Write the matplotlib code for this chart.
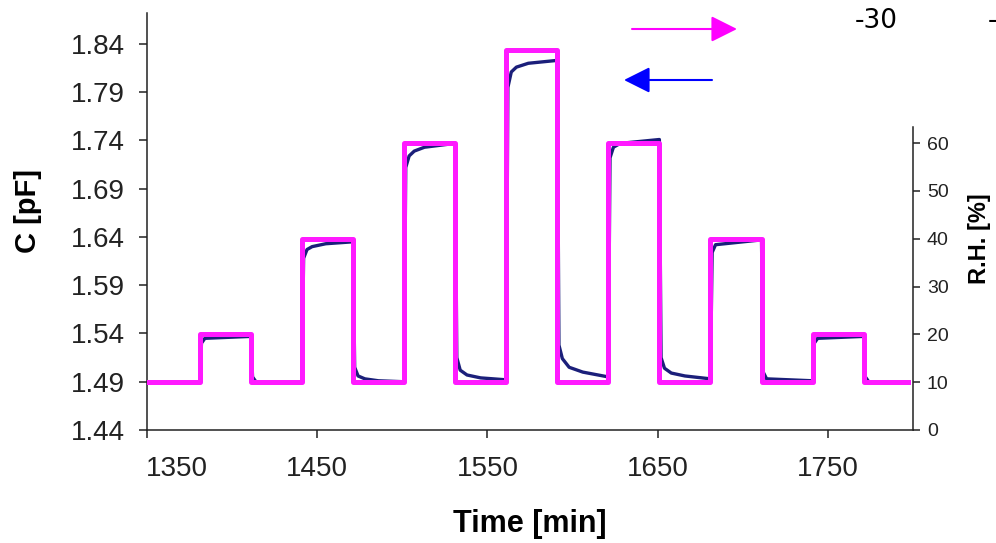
import matplotlib
matplotlib.use("Agg")
import matplotlib.pyplot as plt
from matplotlib.transforms import ScaledTranslation

# relative humidity steps (right axis): edges in min, level in each interval
rh_edges = [1350, 1381, 1411, 1441, 1471, 1501, 1531, 1561, 1591,
            1621, 1651, 1681, 1711, 1741, 1771, 1797]
rh_levels = [10, 20, 10, 40, 10, 60, 10, 79.5, 10, 60, 10, 40, 10, 20, 10]

# capacitance (left axis)
c_time = [1350, 1381, 1382, 1384, 1411, 1412, 1414, 1441, 1442, 1444, 1447,
          1455, 1471, 1472, 1474, 1478, 1486, 1501, 1502, 1504, 1507, 1513,
          1531, 1532, 1534, 1538, 1546, 1561, 1562, 1564, 1567, 1574, 1591,
          1592, 1594, 1598, 1606, 1621, 1622, 1624, 1628, 1651, 1652, 1654,
          1658, 1666, 1681, 1682, 1684, 1711, 1712, 1714, 1741, 1742, 1744,
          1771, 1772, 1774, 1797]
c_val = [1.490, 1.490, 1.530, 1.535, 1.537, 1.495, 1.490, 1.490, 1.618, 1.627,
         1.630, 1.633, 1.635, 1.505, 1.496, 1.493, 1.491, 1.490, 1.712, 1.724,
         1.729, 1.733, 1.737, 1.515, 1.502, 1.497, 1.494, 1.492, 1.795, 1.811,
         1.816, 1.820, 1.823, 1.528, 1.514, 1.505, 1.500, 1.495, 1.722, 1.733,
         1.737, 1.741, 1.515, 1.504, 1.499, 1.496, 1.493, 1.624, 1.632, 1.637,
         1.500, 1.493, 1.491, 1.530, 1.535, 1.537, 1.495, 1.490, 1.490]

c_ticks = [1.44, 1.49, 1.54, 1.59, 1.64, 1.69, 1.74, 1.79, 1.84]
rh_ticks = [0, 10, 20, 30, 40, 50, 60]
time_ticks = [1350, 1450, 1550, 1650, 1750]

plt.rcParams['font.family'] = ['Liberation Sans', 'DejaVu Sans']

W, H = 996, 543
fig = plt.figure(figsize=(W / 100, H / 100), dpi=100)
ax = fig.add_axes([147 / W, 113 / H, 766 / W, 417 / H])
ax2 = ax.twinx()

ax.plot(c_time, c_val, color='#1b1f7a', lw=2.4)
ax2.step(rh_edges, rh_levels + [rh_levels[-1]], where='post',
         color='#ff1aff', lw=3.6)

ax.set_xlim(1350, 1800)
ax.set_ylim(1.44, 1.8721)
ax2.set_ylim(0, 87.18)

ax.set_xticks(time_ticks)
ax.set_yticks(c_ticks)
ax.set_yticklabels([f"{v:.2f}" for v in c_ticks])
ax2.set_yticks(rh_ticks)

for a in (ax, ax2):
    a.spines['top'].set_visible(False)
    for s in a.spines.values():
        s.set_linewidth(1.1)
        s.set_color('#222222')
ax.spines['right'].set_visible(False)
ax2.spines['left'].set_visible(False)
ax2.spines['bottom'].set_visible(False)
ax2.spines['right'].set_bounds(0, 63.3)

ax.tick_params(axis='both', direction='out', length=6, width=1.1,
               colors='#222222', labelsize=20)
ax.tick_params(axis='y', pad=10)
ax.tick_params(axis='x', pad=13)
ax2.tick_params(axis='y', direction='out', length=5, width=1.1,
                colors='#222222', labelsize=14, pad=5)

# the first time label sits to the right of its tick in the original
t0 = ax.xaxis.get_major_ticks()[0]
t0.label1.set_transform(t0.label1.get_transform()
                        + ScaledTranslation(0.30, 0, fig.dpi_scale_trans))

ax.set_xlabel('Time [min]', fontsize=22, fontweight='bold')
ax.set_ylabel('C [pF]', fontsize=21, fontweight='bold')
ax2.set_ylabel('R.H. [%]', fontsize=17, fontweight='bold')
ax.xaxis.set_label_coords(0.5, -0.19)
ax.yaxis.set_label_coords(-0.137, 0.524)
ax2.yaxis.set_label_coords(1.072, 0.458)

# arrows pointing to each series' axis
ax.annotate('', xy=(737, H - 29), xytext=(632, H - 29),
            xycoords='figure pixels', textcoords='figure pixels',
            arrowprops=dict(arrowstyle='-|>,head_length=0.8,head_width=0.4',
                            mutation_scale=20, color='#ff00ff', lw=1.5,
                            shrinkA=0, shrinkB=0))
ax.annotate('', xy=(624, H - 80), xytext=(712, H - 80),
            xycoords='figure pixels', textcoords='figure pixels',
            arrowprops=dict(arrowstyle='-|>,head_length=0.8,head_width=0.4',
                            mutation_scale=20, color='#0000ff', lw=1.5,
                            shrinkA=0, shrinkB=0))

fig.text(876 / W, 1 - 21 / H, '-30', fontsize=19, family='DejaVu Sans',
         ha='center', va='center', color='black')
fig.text(992 / W, 1 - 21 / H, '-', fontsize=19, family='DejaVu Sans',
         ha='center', va='center', color='black')

fig.savefig('out.png', dpi=100)
